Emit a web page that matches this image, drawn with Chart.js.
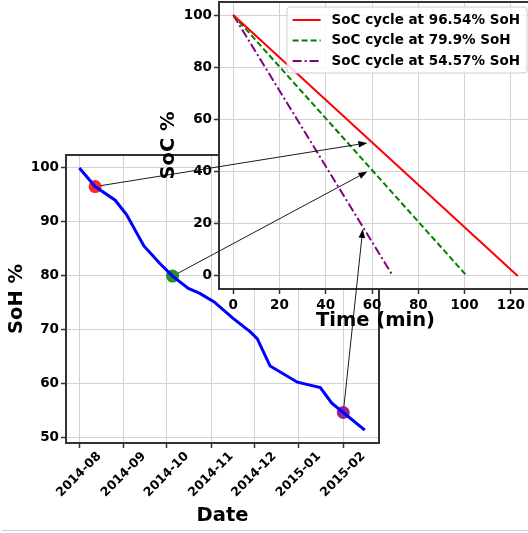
<!DOCTYPE html>
<html>
<head>
<meta charset="utf-8">
<script src="https://cdn.jsdelivr.net/npm/chart.js@4.4.1/dist/chart.umd.min.js"></script>
<style>
html,body{margin:0;padding:0;background:#fff}
#wrap{position:relative;width:528px;height:533px;overflow:hidden}
#wrap canvas{position:absolute;left:0;top:0}
#rule{position:absolute;left:2px;top:530px;width:526px;border-top:1.5px solid #cfcfcf}
</style>
</head>
<body>
<div id="wrap">
  <canvas id="soh" width="560" height="533"></canvas>
  <canvas id="soc" width="560" height="533"></canvas>
  <div id="rule"></div>
</div>
<script>
/* SoH over time, with SoC discharge inset */
const sohDates=['2014-08-01','2014-08-12','2014-08-26','2014-09-03','2014-09-15','2014-09-26','2014-10-05',
  '2014-10-16','2014-10-24','2014-11-03','2014-11-16','2014-11-28','2014-12-03','2014-12-12','2014-12-31',
  '2015-01-16','2015-01-24','2015-02-01','2015-02-16'];
const sohValues=[100,96.54,94.0,91.3,85.5,82.3,79.9,77.6,76.7,75.1,72.1,69.6,68.3,63.2,60.2,59.2,56.3,54.57,51.3];
const markDates=['2014-08-12','2014-10-05','2015-02-01'];
const markSoH=[96.54,79.9,54.57];
const monthLabels=['2014-08','2014-09','2014-10','2014-11','2014-12','2015-01','2015-02'];
const sohTicks=[50,60,70,80,90,100];

const socLabels=['SoC cycle at 96.54% SoH','SoC cycle at 79.9% SoH','SoC cycle at 54.57% SoH'];
const socTime=[[0,123],[0,101],[0,69]];
const socValues=[[100,0],[100,0],[100,0]];
const socTicksX=[0,20,40,60,80,100,120];
const socTicksY=[0,20,40,60,80,100];
const arrowTips=[[58,51],[58,40],[56,18]];

Chart.defaults.font.family="'DejaVu Sans',sans-serif";
Chart.defaults.font.size=13.5;
Chart.defaults.font.weight='bold';
Chart.defaults.color='#000';
const GRID='#d2d2d2',FRAME='#333';
const day=s=>Date.parse(s)/864e5;

const framePlugin={
  id:'frame',
  beforeDraw(c){const {ctx,chartArea:a}=c;ctx.save();ctx.fillStyle='#fff';
    ctx.fillRect(a.left,a.top,a.right-a.left,a.bottom-a.top);ctx.restore();},
  afterDatasetsDraw(c){const {ctx,chartArea:a}=c;ctx.save();ctx.strokeStyle=FRAME;ctx.lineWidth=2;
    ctx.strokeRect(a.left,a.top,a.right-a.left,a.bottom-a.top);ctx.restore();}
};
const noPad=s=>{s.paddingTop=0;s.paddingBottom=0;s.paddingLeft=0;s.paddingRight=0;};
const gridOpts={color:GRID,tickColor:FRAME,tickLength:5,tickWidth:1.5};

const t0=day('2014-08-01');
const mainChart=new Chart(document.getElementById('soh'),{
  data:{datasets:[
    {type:'line',data:sohDates.map((d,i)=>({x:day(d),y:sohValues[i]})),borderColor:'#0000ff',borderWidth:3,
     pointRadius:0,tension:0,order:0},
    {type:'scatter',data:markDates.map((d,i)=>({x:day(d),y:markSoH[i]})),pointRadius:6.5,borderWidth:0,
     backgroundColor:['rgba(255,0,0,.85)','rgba(0,128,0,.85)','rgba(128,0,128,.85)'],order:1}
  ]},
  options:{
    responsive:false,animation:false,devicePixelRatio:1,events:[],
    layout:{padding:{left:0,top:155,right:181,bottom:0}},
    plugins:{legend:{display:false},tooltip:{enabled:false}},
    scales:{
      x:{type:'linear',min:t0-9.3,max:t0+208.9,
         afterBuildTicks:s=>{s.ticks=monthLabels.map(m=>({value:day(m+'-01')}));},
         afterFit:s=>{s.height=90;noPad(s);},
         grid:gridOpts,border:{display:false},
         ticks:{callback:(v,i)=>monthLabels[i],font:{size:12.5},minRotation:45,maxRotation:45,autoSkip:false,
                padding:1,labelOffset:20},
         title:{display:true,text:'Date',font:{size:19.5},padding:{top:0,bottom:5}}},
      y:{type:'linear',min:48.9,max:102.4,
         afterBuildTicks:s=>{s.ticks=sohTicks.map(v=>({value:v}));},
         afterFit:s=>{s.width=66;noPad(s);},
         grid:gridOpts,border:{display:false},
         ticks:{padding:2},
         title:{display:true,text:'SoH %',font:{size:19.5},padding:{top:5.5,bottom:0}}}
    }
  },
  plugins:[framePlugin]
});

const arrowPlugin={
  id:'arrows',
  afterDraw(c){
    const m=mainChart,ctx=c.ctx;
    ctx.save();ctx.strokeStyle='#000';ctx.fillStyle='#000';ctx.lineWidth=0.9;
    markDates.forEach((d,i)=>{
      let x0=m.scales.x.getPixelForValue(day(d)),y0=m.scales.y.getPixelForValue(markSoH[i]);
      const x1=c.scales.x.getPixelForValue(arrowTips[i][0]),y1=c.scales.y.getPixelForValue(arrowTips[i][1]);
      const dx=x1-x0,dy=y1-y0,L=Math.hypot(dx,dy),ux=dx/L,uy=dy/L;
      x0+=ux*6;y0+=uy*6;
      const hl=9,hw=3.3,bx=x1-ux*hl,by=y1-uy*hl;
      ctx.beginPath();ctx.moveTo(x0,y0);ctx.lineTo(bx,by);ctx.stroke();
      ctx.beginPath();ctx.moveTo(x1,y1);ctx.lineTo(bx-uy*hw,by+ux*hw);ctx.lineTo(bx+uy*hw,by-ux*hw);
      ctx.closePath();ctx.fill();
    });
    ctx.restore();
  }
};

const legendPlugin={
  id:'boxLegend',
  afterDraw(c){
    const ctx=c.ctx,a=c.chartArea,ds=c.data.datasets;
    ctx.save();ctx.font="bold 13.5px 'DejaVu Sans'";
    const tw=Math.max(...ds.map(d=>ctx.measureText(d.label).width));
    const w=5.7+28+11+tw+7,h=66,x=a.right-5-w,y=a.top+5;
    ctx.fillStyle='rgba(255,255,255,.85)';ctx.strokeStyle='#cccccc';ctx.lineWidth=1;
    ctx.beginPath();ctx.roundRect(x,y,w,h,3);ctx.fill();ctx.stroke();
    ds.forEach((d,i)=>{
      const ly=y+13+i*20.5;
      ctx.strokeStyle=d.borderColor;ctx.lineWidth=d.borderWidth;ctx.setLineDash(d.borderDash||[]);
      ctx.beginPath();ctx.moveTo(x+5.7,ly);ctx.lineTo(x+33.7,ly);ctx.stroke();ctx.setLineDash([]);
      ctx.fillStyle='#000';ctx.textBaseline='middle';ctx.textAlign='left';ctx.fillText(d.label,x+44.7,ly);
    });
    ctx.restore();
  }
};

const socStyles=[{c:'#ff0000',dash:[]},{c:'#008000',dash:[6,3]},{c:'#800080',dash:[9,3,2,3]}];
new Chart(document.getElementById('soc'),{
  type:'line',
  data:{datasets:socLabels.map((l,i)=>({
    label:l,data:socTime[i].map((t,j)=>({x:t,y:socValues[i][j]})),
    borderColor:socStyles[i].c,borderDash:socStyles[i].dash,borderWidth:2,pointRadius:0,tension:0
  }))},
  options:{
    responsive:false,animation:false,devicePixelRatio:1,events:[],
    layout:{padding:{left:157,top:2,right:28,bottom:200}},
    plugins:{legend:{display:false},tooltip:{enabled:false}},
    scales:{
      x:{type:'linear',min:-6.15,max:129.15,
         afterBuildTicks:s=>{s.ticks=socTicksX.map(v=>({value:v}));},
         afterFit:s=>{s.height=44;noPad(s);},
         grid:gridOpts,border:{display:false},ticks:{padding:3},
         title:{display:true,text:'Time (min)',font:{size:19.5},padding:{top:0,bottom:0}}},
      y:{type:'linear',min:-5,max:105,
         afterBuildTicks:s=>{s.ticks=socTicksY.map(v=>({value:v}));},
         afterFit:s=>{s.width=62;noPad(s);},
         grid:gridOpts,border:{display:false},ticks:{padding:2},
         title:{display:true,text:'SoC %',font:{size:19.5},padding:{top:0,bottom:0}}}
    }
  },
  plugins:[framePlugin,arrowPlugin,legendPlugin]
});
</script>
</body>
</html>
